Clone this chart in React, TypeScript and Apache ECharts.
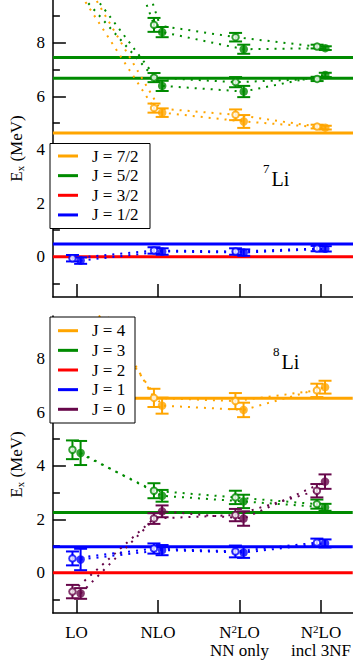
import React, { useEffect, useRef } from 'react';
import * as echarts from 'echarts';

// ---------- axes / ticks ----------
const CATEGORIES = ['LO', 'NLO', 'N^2LO\nNN only', 'N^2LO\nincl 3NF'];
const X_TICKS = [0, 1, 2, 3];
const Y_MAJOR = [0, 2, 4, 6, 8];
const Y_MINOR = [-1, 1, 3, 5, 7, 9];
const X_MIN = -0.29;
const X_MAX = 3.39;
const Y_MIN = -1.5;
const Y_MAX = 9.6;

// ---------- 7Li ----------
const LI7_LEGEND = ['J = 7/2', 'J = 5/2', 'J = 3/2', 'J = 1/2'];
const LI7_J72_EXP = [4.63];
const LI7_J52_EXP = [6.68, 7.45];
const LI7_J32_EXP = [0];
const LI7_J12_EXP = [0.48];

const LI7_J72_OPEN = [10.28, 5.56, 5.31, 4.87];
const LI7_J72_OPEN_ERR = [0, 0.17, 0.2, 0.07];
const LI7_J72_FILLED = [10.59, 5.39, 5.06, 4.83];
const LI7_J72_FILLED_ERR = [0, 0.16, 0.24, 0.07];

const LI7_J52A_OPEN = [10.15, 6.7, 6.53, 6.65];
const LI7_J52A_OPEN_ERR = [0, 0.17, 0.19, 0.08];
const LI7_J52A_FILLED = [10.43, 6.39, 6.18, 6.8];
const LI7_J52A_FILLED_ERR = [0, 0.19, 0.21, 0.08];

const LI7_J52B_OPEN = [17.0, 8.67, 8.21, 7.86];
const LI7_J52B_OPEN_ERR = [0, 0.26, 0.16, 0.07];
const LI7_J52B_FILLED = [17.7, 8.4, 7.76, 7.8];
const LI7_J52B_FILLED_ERR = [0, 0.19, 0.17, 0.07];

const LI7_J12_OPEN = [-0.05, 0.24, 0.2, 0.31];
const LI7_J12_OPEN_ERR = [0.12, 0.12, 0.12, 0.1];
const LI7_J12_FILLED = [-0.14, 0.2, 0.16, 0.3];
const LI7_J12_FILLED_ERR = [0.12, 0.12, 0.12, 0.1];

// ---------- 8Li ----------
const LI8_LEGEND = ['J = 4', 'J = 3', 'J = 2', 'J = 1', 'J = 0'];
const LI8_J4_EXP = [6.53];
const LI8_J3_EXP = [2.26];
const LI8_J2_EXP = [0];
const LI8_J1_EXP = [0.98];

const LI8_J4_OPEN = [11.9, 6.54, 6.42, 6.82];
const LI8_J4_OPEN_ERR = [0, 0.34, 0.3, 0.25];
const LI8_J4_FILLED = [10.6, 6.25, 6.09, 6.94];
const LI8_J4_FILLED_ERR = [0, 0.3, 0.27, 0.24];

const LI8_J3_OPEN = [4.6, 3.07, 2.82, 2.57];
const LI8_J3_OPEN_ERR = [0.35, 0.28, 0.25, 0.17];
const LI8_J3_FILLED = [4.48, 2.88, 2.67, 2.45];
const LI8_J3_FILLED_ERR = [0.45, 0.22, 0.25, 0.13];

const LI8_J1_OPEN = [0.54, 0.91, 0.8, 1.13];
const LI8_J1_OPEN_ERR = [0.26, 0.19, 0.22, 0.15];
const LI8_J1_FILLED = [0.5, 0.85, 0.76, 1.1];
const LI8_J1_FILLED_ERR = [0.4, 0.19, 0.2, 0.15];

const LI8_J0_OPEN = [-0.7, 2.03, 2.16, 3.07];
const LI8_J0_OPEN_ERR = [0.25, 0.2, 0.23, 0.25];
const LI8_J0_FILLED = [-0.77, 2.3, 2.03, 3.41];
const LI8_J0_FILLED_ERR = [0.2, 0.22, 0.27, 0.27];

// ---------- styles ----------
const ORANGE = '#FFA500';
const GREEN = '#008B00';
const RED = '#FF0000';
const BLUE = '#0000FF';
const MAROON = '#67074A';
const FONT = 'Liberation Serif';
const OFFSET = 0.05;
const LI7_COLORS = [ORANGE, GREEN, RED, BLUE];
const LI8_COLORS = [ORANGE, GREEN, RED, BLUE, MAROON];

function errRender(color: string) {
  return (params: any, api: any) => {
    const x = api.value(0);
    const y = api.value(1);
    const e = api.value(2);
    if (!e) return null;
    const t = api.coord([x, y + e]);
    const b = api.coord([x, y - e]);
    const hw = 6.5;
    const st = { stroke: color, lineWidth: 2 };
    return {
      type: 'group',
      children: [
        { type: 'line', shape: { x1: t[0], y1: t[1], x2: b[0], y2: b[1] }, style: st },
        { type: 'line', shape: { x1: t[0] - hw, y1: t[1], x2: t[0] + hw, y2: t[1] }, style: st },
        { type: 'line', shape: { x1: b[0] - hw, y1: b[1], x2: b[0] + hw, y2: b[1] }, style: st },
      ],
    };
  };
}

function stateSeries(g: number, color: string, open: number[], openErr: number[], filled: number[], filledErr: number[]) {
  const axes = { xAxisIndex: g, yAxisIndex: g * 2 };
  const openPts = open.map((v, i) => [X_TICKS[i] - OFFSET, v]);
  const filledPts = filled.map((v, i) => [X_TICKS[i] + OFFSET, v]);
  const dotted = { color, width: 2, type: [2, 6] as any };
  return [
    { type: 'line', ...axes, data: openPts, symbol: 'none', lineStyle: dotted, z: 2, silent: true, clip: true },
    { type: 'line', ...axes, data: filledPts, symbol: 'none', lineStyle: dotted, z: 2, silent: true, clip: true },
    { type: 'custom', ...axes, data: open.map((v, i) => [X_TICKS[i] - OFFSET, v, openErr[i]]), renderItem: errRender(color), z: 3, clip: true, silent: true },
    { type: 'custom', ...axes, data: filled.map((v, i) => [X_TICKS[i] + OFFSET, v, filledErr[i]]), renderItem: errRender(color), z: 3, clip: true, silent: true },
    { type: 'scatter', ...axes, data: openPts, symbol: 'emptyCircle', symbolSize: 6.5, itemStyle: { color, borderColor: color, borderWidth: 2 }, z: 4, clip: true, silent: true },
    { type: 'scatter', ...axes, data: filledPts, symbol: 'circle', symbolSize: 8.5, itemStyle: { color }, z: 4, clip: true, silent: true },
  ];
}

function expSeries(g: number, color: string, values: number[]) {
  return values.map((v) => ({
    type: 'line',
    xAxisIndex: g,
    yAxisIndex: g * 2,
    data: [[X_MIN, v], [X_MAX, v]],
    symbol: 'none',
    lineStyle: { color, width: 3, type: 'solid' },
    z: 1,
    silent: true,
  }));
}

function xLabel(v: number) {
  const s = CATEGORIES[Math.round(v)] ?? '';
  return s
    .split('\n')
    .map((line) => {
      if (line.startsWith('N^2')) return '{n|N}{sup|2}{n|' + line.slice(3) + '}';
      return '{n|' + line + '}';
    })
    .join('\n');
}

function axesFor(g: number) {
  const line = { color: '#000', width: 1.5 };
  const xAxis = {
    type: 'value',
    gridIndex: g,
    min: X_MIN,
    max: X_MAX,
    position: 'bottom',
    axisLine: { show: true, onZero: false, lineStyle: line },
    axisTick: { show: true, inside: true, length: 13, customValues: X_TICKS, lineStyle: line },
    axisLabel: g === 1
      ? {
          show: true,
          customValues: X_TICKS,
          formatter: xLabel,
          margin: 10,
          color: '#000',
          fontFamily: FONT,
          fontSize: 17,
          lineHeight: 18,
          rich: {
            n: { fontFamily: FONT, fontSize: 17, lineHeight: 18, color: '#000' },
            sup: { fontFamily: FONT, fontSize: 11, lineHeight: 11, color: '#000', verticalAlign: 'top' },
          },
        }
      : { show: false },
    splitLine: { show: false },
  };
  const yMajor = {
    type: 'value',
    gridIndex: g,
    min: Y_MIN,
    max: Y_MAX,
    position: 'left',
    axisLine: { show: true, onZero: false, lineStyle: line },
    axisTick: { show: true, inside: true, length: 13, customValues: Y_MAJOR, lineStyle: line },
    axisLabel: { show: true, customValues: Y_MAJOR, margin: 8, color: '#000', fontFamily: FONT, fontSize: 17 },
    splitLine: { show: false },
    name: '{e|E}{s|x}{e| (MeV)}',
    nameLocation: 'middle',
    nameRotate: 90,
    nameGap: 20,
    nameTextStyle: {
      rich: {
        e: { fontFamily: FONT, fontSize: 17, color: '#000', lineHeight: 18 },
        s: { fontFamily: FONT, fontSize: 11, color: '#000', lineHeight: 11, verticalAlign: 'bottom' },
      },
    },
  };
  const yMinor = {
    type: 'value',
    gridIndex: g,
    min: Y_MIN,
    max: Y_MAX,
    position: 'left',
    axisLine: { show: false, onZero: false },
    axisTick: { show: true, inside: true, length: 7, customValues: Y_MINOR, lineStyle: line },
    axisLabel: { show: false },
    splitLine: { show: false },
  };
  return { xAxis, yAxes: [yMajor, yMinor] };
}

function legendGraphic(labels: string[], colors: string[], box: number[], firstRow: number) {
  const [bx, by, bw, bh] = box;
  const els: any[] = [
    { type: 'rect', shape: { x: bx, y: by, width: bw, height: bh }, style: { fill: '#fff', stroke: '#000', lineWidth: 1 }, z: 100 },
  ];
  labels.forEach((t, i) => {
    const y = firstRow + i * 19.65;
    els.push({ type: 'line', shape: { x1: 58, y1: y, x2: 78, y2: y }, style: { stroke: colors[i], lineWidth: 3 }, z: 101 });
    els.push({
      type: 'text',
      x: 92,
      y,
      style: { text: t, fill: '#000', fontFamily: FONT, fontSize: 17, textAlign: 'left', textVerticalAlign: 'middle' },
      z: 101,
    });
  });
  return els;
}

function nucleusLabel(mass: string, x: number, y: number) {
  return [
    { type: 'text', x: x, y: y - 11, style: { text: mass, fill: '#000', fontFamily: FONT, fontSize: 13, textAlign: 'left', textVerticalAlign: 'middle' }, z: 101 },
    { type: 'text', x: x + 8.5, y: y, style: { text: 'Li', fill: '#000', fontFamily: FONT, fontSize: 20, textAlign: 'left', textVerticalAlign: 'middle' }, z: 101 },
  ];
}

function buildOption() {
  const a0 = axesFor(0);
  const a1 = axesFor(1);
  const series = [
    ...expSeries(0, ORANGE, LI7_J72_EXP),
    ...expSeries(0, GREEN, LI7_J52_EXP),
    ...expSeries(0, RED, LI7_J32_EXP),
    ...expSeries(0, BLUE, LI7_J12_EXP),
    ...stateSeries(0, ORANGE, LI7_J72_OPEN, LI7_J72_OPEN_ERR, LI7_J72_FILLED, LI7_J72_FILLED_ERR),
    ...stateSeries(0, GREEN, LI7_J52A_OPEN, LI7_J52A_OPEN_ERR, LI7_J52A_FILLED, LI7_J52A_FILLED_ERR),
    ...stateSeries(0, GREEN, LI7_J52B_OPEN, LI7_J52B_OPEN_ERR, LI7_J52B_FILLED, LI7_J52B_FILLED_ERR),
    ...stateSeries(0, BLUE, LI7_J12_OPEN, LI7_J12_OPEN_ERR, LI7_J12_FILLED, LI7_J12_FILLED_ERR),
    ...expSeries(1, ORANGE, LI8_J4_EXP),
    ...expSeries(1, GREEN, LI8_J3_EXP),
    ...expSeries(1, RED, LI8_J2_EXP),
    ...expSeries(1, BLUE, LI8_J1_EXP),
    ...stateSeries(1, ORANGE, LI8_J4_OPEN, LI8_J4_OPEN_ERR, LI8_J4_FILLED, LI8_J4_FILLED_ERR),
    ...stateSeries(1, GREEN, LI8_J3_OPEN, LI8_J3_OPEN_ERR, LI8_J3_FILLED, LI8_J3_FILLED_ERR),
    ...stateSeries(1, MAROON, LI8_J0_OPEN, LI8_J0_OPEN_ERR, LI8_J0_FILLED, LI8_J0_FILLED_ERR),
    ...stateSeries(1, BLUE, LI8_J1_OPEN, LI8_J1_OPEN_ERR, LI8_J1_FILLED, LI8_J1_FILLED_ERR),
  ];
  return {
    animation: false,
    backgroundColor: '#fff',
    textStyle: { fontFamily: FONT },
    grid: [
      { left: 44, top: 0, width: 309, height: 297 },
      { left: 44, top: 316, width: 309, height: 297 },
    ],
    xAxis: [a0.xAxis, a1.xAxis],
    yAxis: [...a0.yAxes, ...a1.yAxes],
    series,
    graphic: [
      ...legendGraphic(LI7_LEGEND, LI7_COLORS, [50, 143.5, 100, 85], 156),
      ...legendGraphic(LI8_LEGEND, LI8_COLORS, [50, 317, 85, 106], 330.7),
      ...nucleusLabel('7', 263, 179),
      ...nucleusLabel('8', 273, 362),
    ],
  };
}

export default function App() {
  const ref = useRef<HTMLDivElement>(null);
  useEffect(() => {
    if (!ref.current) return;
    const chart = echarts.init(ref.current, null, { renderer: 'svg' });
    chart.setOption(buildOption() as any);
    return () => chart.dispose();
  }, []);
  return <div ref={ref} style={{ position: 'absolute', left: 0, top: 0, width: 353, height: 661 }} />;
}
